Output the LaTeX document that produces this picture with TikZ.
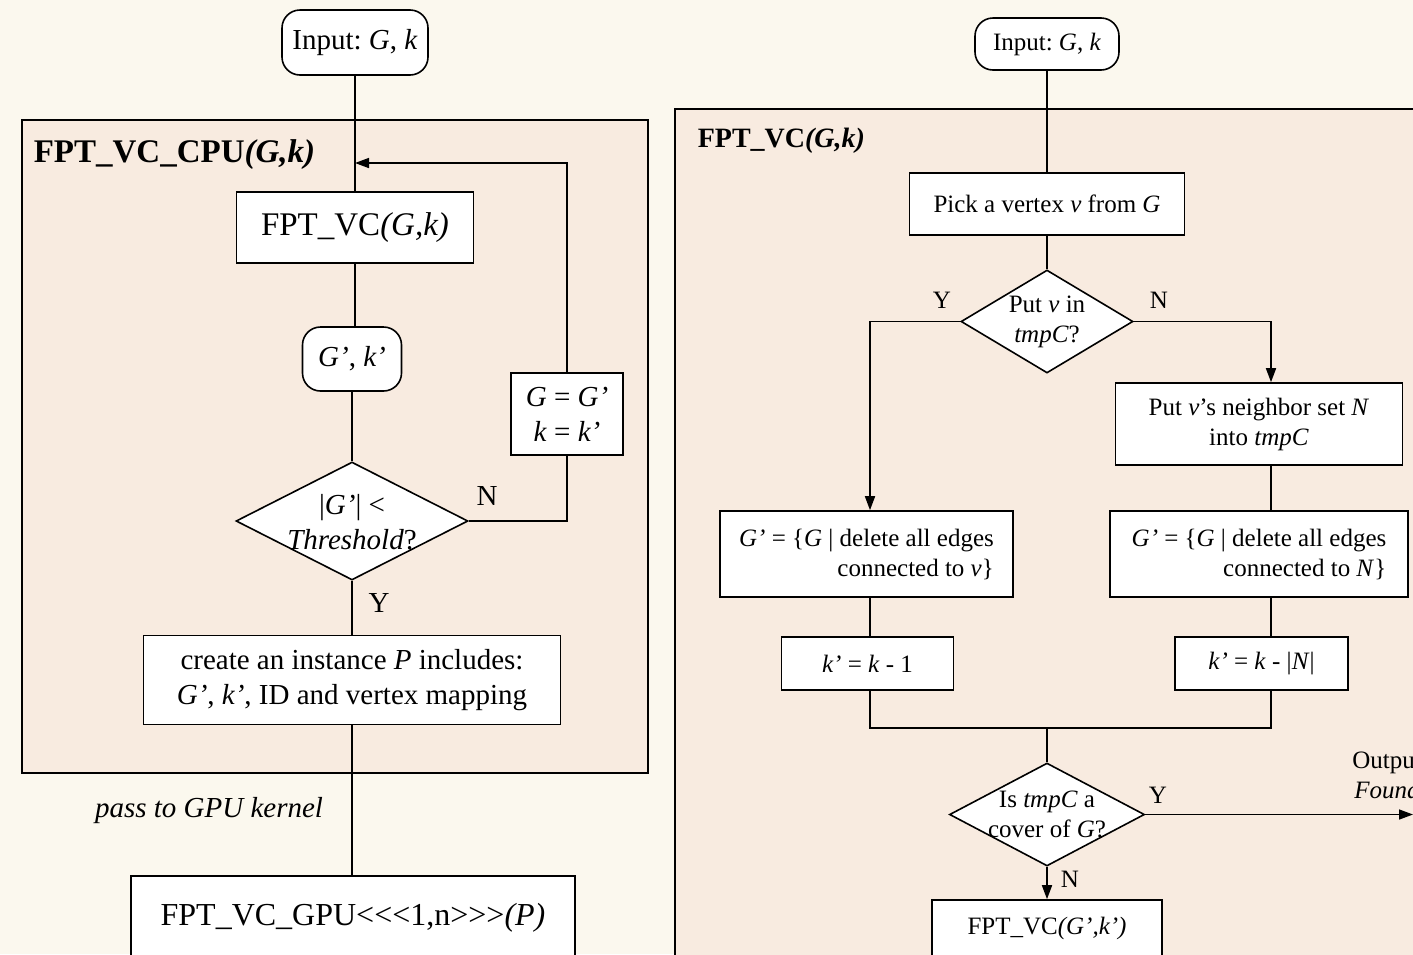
\documentclass[tikz,border=0pt]{standalone}
\usepackage{fontspec}
\setmainfont{Liberation Serif}
\frenchspacing
\usetikzlibrary{shapes.geometric,arrows.meta}
\definecolor{pagebg}{RGB}{251,248,238}
\definecolor{panelbg}{RGB}{248,235,224}
\newcommand{\lft}{\fontsize{14.5}{17.5}\selectfont}
\newcommand{\rgt}{\fontsize{12.5}{15}\selectfont}
\newcommand{\ltk}{<\kern0pt}
\newcommand{\gtk}{>\kern0pt}
\tikzset{
  box/.style={draw, fill=white, rectangle, inner sep=0pt, align=center},
  rbox/.style={box, rounded corners=9pt},
  dec/.style={draw, fill=white, diamond, inner sep=0pt},
  panel/.style={draw, fill=panelbg},
  title/.style={anchor=base west, inner sep=0pt},
  arr/.style={-{Triangle[length=7pt,width=5pt]}},
}
\begin{document}
\begin{tikzpicture}[x=0.5pt, y=-0.5pt, line width=0.8pt]
  \useasboundingbox (0,0) rectangle (1413,954);
  \fill[pagebg] (0,0) rectangle (1413,954);
  \clip (0,0) rectangle (1413,954);
  % CPU side
  \draw[panel] (22,120) rectangle (648,773);
  \node (cputitle) at (33,162) [title, font=\fontsize{16.5}{20}\selectfont\bfseries] {FPT\_VC\_CPU\textit{(G,k)}};
  \node (in1) at (355,42.5) [rbox, minimum width=73pt, minimum height=32.5pt, font=\lft] {Input: \textit{G}, \textit{k}};
  \node (fvc) at (355,227.5) [box, minimum width=118.5pt, minimum height=35.5pt, font=\fontsize{16.5}{20}\selectfont] {FPT\_VC\textit{(G,k)}};
  \node (gk) at (352,359) [rbox, minimum width=49.5pt, minimum height=32pt, font=\lft] {\textit{G'}, \textit{k'}};
  \node (thr) at (352,521) [dec, minimum width=116pt, minimum height=59pt] {};
  \node (thrtxt) at (352,522) [font=\lft, align=center] {|\textit{G'}| <\\\textit{Threshold}?};
  \node (thrn) at (487,496) [font=\lft] {N};
  \node (thry) at (379,603) [font=\lft] {Y};
  \node (gg) at (567,414) [box, minimum width=56pt, minimum height=41pt, font=\lft] {\textit{G} = \textit{G'}\\\textit{k} = \textit{k'}};
  \coordinate (loopin) at (355,163);
  \node (inst) at (352,680) [box, minimum width=208.5pt, minimum height=44.5pt, font=\lft] {create an instance \textit{P} includes:\\\textit{G'}, \textit{k'}, ID and vertex mapping};
  \node (pass) at (209,811) [font=\lft\itshape] {pass to GPU kernel};
  \node (gpu) at (353,918) [box, minimum width=222pt, minimum height=42pt, font=\fontsize{16}{19}\selectfont] {FPT\_VC\_GPU\ltk\ltk\ltk 1,n\gtk\gtk\gtk\textit{(P)}};
  \draw (in1) -- (in1 |- fvc.north);
  \draw (fvc.south) -- (fvc.south |- gk.north);
  \draw (gk) -- (thr);
  \draw (thr) -- (inst);
  \draw (inst.south) -- (inst.south |- gpu.north);
  \draw (thr.east) -| (gg.south);
  \draw[arr] (gg.north) |- (loopin);
  % GPU kernel side
  \draw[panel] (675,109) rectangle (1440,1000);
  \node (vctitle) at (697,147) [title, font=\fontsize{14}{17}\selectfont\bfseries] {FPT\_VC\textit{(G,k)}};
  \node (in2) at (1047,44) [rbox, minimum width=72pt, minimum height=26pt, font=\rgt] {Input: \textit{G}, \textit{k}};
  \node (pick) at (1047,204) [box, minimum width=137.5pt, minimum height=31pt, font=\rgt] {Pick a vertex \textit{v} from \textit{G}};
  \node (put) at (1047,321.5) [dec, minimum width=86pt, minimum height=51.5pt] {};
  \node (puttxt) at (1047,321.5) [font=\rgt, align=center] {Put \textit{v} in\\\textit{tmpC}?};
  \node (puty) at (942,300) [font=\rgt] {Y};
  \node (putn) at (1159,300) [font=\rgt] {N};
  \node (nb) at (1259,424) [box, minimum width=143.5pt, minimum height=41pt, font=\rgt] {Put \textit{v}'s neighbor set \textit{N}\\into \textit{tmpC}};
  \node (gv) at (866.5,554) [box, minimum width=146.5pt, minimum height=43pt, font=\rgt, align=right] {\textit{G'} = \{\textit{G} | delete all edges\\connected to \textit{v}\}};
  \node (gn) at (1259,554) [box, minimum width=149pt, minimum height=43pt, font=\rgt, align=right] {\textit{G'} = \{\textit{G} | delete all edges\\connected to \textit{N}\}};
  \node (k1) at (867.5,663.5) [box, minimum width=86pt, minimum height=26.5pt, font=\rgt] {\textit{k'} = \textit{k} - 1};
  \node (kn) at (1261.5,663.5) [box, minimum width=86.5pt, minimum height=26.5pt, font=\rgt] {\textit{k'} = \textit{k} - |\textit{N}|};
  \node (cov) at (1047,814.5) [dec, minimum width=97.5pt, minimum height=51.5pt] {};
  \node (covtxt) at (1047,814.5) [font=\rgt, align=center] {Is \textit{tmpC} a\\cover of \textit{G}?};
  \node (covy) at (1158,795) [font=\rgt] {Y};
  \node (covn) at (1070,879) [font=\rgt] {N};
  \node (out) at (1387,775) [font=\rgt, align=center] {Output\\\textit{Found}};
  \coordinate (outend) at (1413,814.5);
  \node (vc2) at (1047,928) [box, minimum width=115pt, minimum height=28pt, font=\rgt] {FPT\_VC\textit{(G',k')}};
  \coordinate (yturn) at (870,321.5);
  \coordinate (nturn) at (1271,321.5);
  \coordinate (merge) at (1047,728);
  \draw (in2) -- (in2 |- pick.north);
  \draw (pick) -- (put);
  \draw[arr] (put.west) -- (yturn) -- (yturn |- gv.north);
  \draw[arr] (put.east) -- (nturn) -- (nturn |- nb.north);
  \draw (nturn |- nb.south) -- (nturn |- gn.north);
  \draw (yturn |- gv.south) -- (yturn |- k1.north);
  \draw (nturn |- gn.south) -- (nturn |- kn.north);
  \draw (yturn |- k1.south) |- (merge) -| (nturn |- kn.south);
  \draw (merge) -- (cov);
  \draw[arr] (cov.east) -- (outend);
  \draw[arr] (cov) -- (vc2);
\end{tikzpicture}
\end{document}
